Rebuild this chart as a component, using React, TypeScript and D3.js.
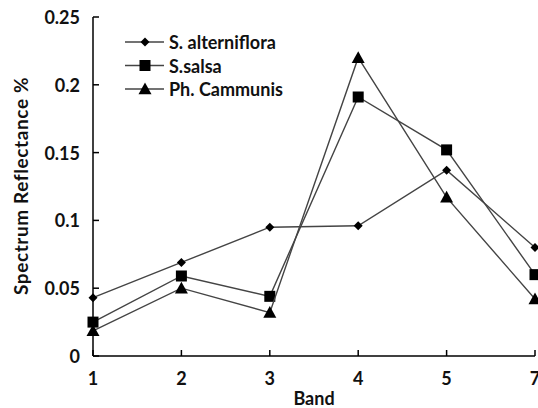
import React from "react";
import * as d3 from "d3";

const bands = ["1", "2", "3", "4", "5", "7"];
const alterniflora = [0.043, 0.069, 0.095, 0.096, 0.137, 0.080];
const salsa = [0.025, 0.059, 0.044, 0.191, 0.152, 0.060];
const cammunis = [0.0185, 0.050, 0.032, 0.220, 0.117, 0.042];
const yTicks = [0, 0.05, 0.1, 0.15, 0.2, 0.25];
const yTickLabels = ["0", "0.05", "0.1", "0.15", "0.2", "0.25"];
const seriesNames = ["S. alterniflora", "S.salsa", "Ph. Cammunis"];
const seriesShapes = ["diamond", "square", "triangle"];

const W = 538, H = 408;
const left = 93, right = 535, top = 17, bottom = 356;
const font = "Lato, 'Open Sans', sans-serif";
const fs = 18;

function Marker({ shape, x, y }: { shape: string; x: number; y: number }) {
  if (shape === "diamond") {
    const s = 4.5;
    return <path d={`M${x},${y - s}L${x + s},${y}L${x},${y + s}L${x - s},${y}Z`} fill="#000" />;
  }
  if (shape === "square") {
    const s = 5.5;
    return <rect x={x - s} y={y - s} width={2 * s} height={2 * s} fill="#000" />;
  }
  const s = 6.5;
  return <path d={`M${x},${y - s}L${x + s},${y + s * 0.8}L${x - s},${y + s * 0.8}Z`} fill="#000" />;
}

export default function App() {
  const x = d3.scalePoint<string>().domain(bands).range([left, right]).padding(0);
  const y = d3.scaleLinear().domain([0, 0.25]).range([bottom, top]);
  const data = [alterniflora, salsa, cammunis];
  const line = d3
    .line<number>()
    .x((_, i) => x(bands[i]) as number)
    .y((d) => y(d));

  const legendY = [42, 65.5, 89];

  return (
    <svg width={W} height={H} style={{ position: "absolute", left: 0, top: 0, background: "#fff" }}>
      <rect width={W} height={H} fill="#fff" />
      {data.map((vals, si) => (
        <g key={si}>
          <path d={line(vals) as string} fill="none" stroke="#444" strokeWidth={1.4} />
          {vals.map((v, i) => (
            <Marker key={i} shape={seriesShapes[si]} x={x(bands[i]) as number} y={y(v)} />
          ))}
        </g>
      ))}
      <line x1={left} x2={left} y1={top} y2={bottom} stroke="#000" strokeWidth={1.5} />
      <line x1={left} x2={right} y1={bottom} y2={bottom} stroke="#000" strokeWidth={1.5} />
      {yTicks.map((t, i) => (
        <g key={t}>
          <line x1={left} x2={left + 6} y1={y(t)} y2={y(t)} stroke="#000" strokeWidth={1.5} />
          <text
            x={80}
            y={y(t)}
            textAnchor="end"
            dominantBaseline="central"
            fontFamily={font}
            fontWeight="bold"
            fontSize={fs}
            fill="#111"
          >
            {yTickLabels[i]}
          </text>
        </g>
      ))}
      {bands.map((b) => (
        <g key={b}>
          <line x1={x(b)} x2={x(b)} y1={bottom} y2={bottom - 6} stroke="#000" strokeWidth={1.5} />
          <text
            x={x(b)}
            y={378}
            textAnchor="middle"
            dominantBaseline="central"
            fontFamily={font}
            fontWeight="bold"
            fontSize={fs}
            fill="#111"
          >
            {b}
          </text>
        </g>
      ))}
      <text
        x={(left + right) / 2}
        y={398}
        textAnchor="middle"
        dominantBaseline="central"
        fontFamily={font}
        fontWeight="bold"
        fontSize={fs}
        fill="#111"
      >
        Band
      </text>
      <text
        transform={`translate(20,186) rotate(-90)`}
        textAnchor="middle"
        dominantBaseline="central"
        fontFamily={font}
        fontWeight="bold"
        fontSize={19}
        letterSpacing={0.6}
        fill="#111"
      >
        Spectrum Reflectance %
      </text>
      {seriesNames.map((n, i) => (
        <g key={n}>
          <line x1={125} x2={164} y1={legendY[i]} y2={legendY[i]} stroke="#444" strokeWidth={1.4} />
          <Marker shape={seriesShapes[i]} x={145} y={legendY[i]} />
          <text
            x={169}
            y={legendY[i]}
            dominantBaseline="central"
            fontFamily={font}
            fontWeight="bold"
            fontSize={fs}
            fill="#111"
          >
            {n}
          </text>
        </g>
      ))}
    </svg>
  );
}
